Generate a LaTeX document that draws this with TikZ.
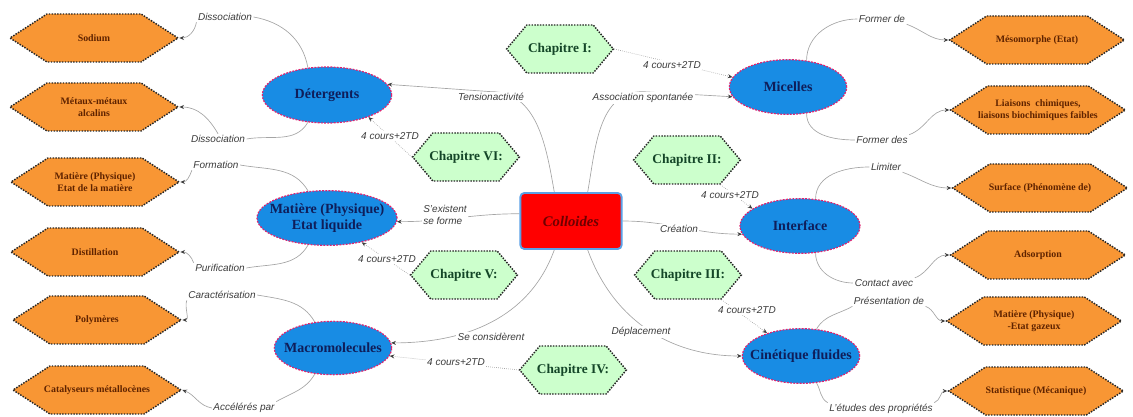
\documentclass[tikz,border=0pt]{standalone}
\usepackage{fontspec}
\setmainfont{Liberation Serif}
\setsansfont{Liberation Sans}
\usepackage{xcolor}
\usetikzlibrary{shapes.geometric, shapes.symbols, arrows.meta}

\definecolor{leafbg}{RGB}{248,150,52}
\definecolor{leaftxt}{RGB}{95,35,0}
\definecolor{chapbg}{RGB}{204,255,204}
\definecolor{chaptxt}{RGB}{20,70,40}
\definecolor{topicbg}{RGB}{24,140,228}
\definecolor{topicline}{RGB}{225,35,110}
\definecolor{topictxt}{RGB}{15,30,90}
\definecolor{rootline}{RGB}{90,160,230}
\definecolor{roottxt}{RGB}{110,0,0}
\definecolor{lbltxt}{RGB}{60,60,60}
\definecolor{conncol}{RGB}{165,165,165}

\pgfdeclarelayer{bg}
\pgfsetlayers{bg,main}

\begin{document}
\begin{tikzpicture}[x=0.75pt, y=-0.75pt,
    leaf/.style = {shape=signal, signal to=east and west, signal pointer angle=66,
        fill=leafbg, draw=black!85, line width=1.1pt, densely dotted,
        minimum width=126pt, minimum height=36pt, inner xsep=-14pt, inner ysep=2pt,
        align=center, text=leaftxt, font=\fontsize{7.4}{8.8}\selectfont\bfseries},
    chap/.style = {shape=signal, signal to=east and west, signal pointer angle=100,
        fill=chapbg, draw=black!85, line width=1.1pt, densely dotted,
        minimum width=80pt, minimum height=36pt, inner xsep=-8pt, inner ysep=2pt,
        text=chaptxt, font=\fontsize{10}{12}\selectfont\bfseries},
    topic/.style = {ellipse, fill=topicbg, draw=topicline, line width=0.9pt,
        dash pattern=on 1.4pt off 1pt, inner xsep=-20pt, inner ysep=-5pt,
        align=center, text=topictxt, font=\fontsize{10.5}{12.5}\selectfont\bfseries},
    root/.style = {rectangle, rounded corners=3pt, fill=red, draw=rootline, line width=1.4pt,
        minimum width=76pt, minimum height=42pt, text=roottxt,
        font=\fontsize{11}{13}\selectfont\bfseries\itshape},
    lbl/.style = {fill=white, inner sep=1pt, text=lbltxt, align=left,
        font=\sffamily\itshape\fontsize{7.5}{9}\selectfont},
    conn/.style = {draw=conncol, line width=0.5pt,
        -{Stealth[length=3.5pt, width=3pt, color=black!75]}},
    link/.style = {conn, densely dotted}
]
\useasboundingbox (0,0) rectangle (1133,417);

% centre
\node[root] (col) at (571,221) {Colloides};

% branches
\node[topic, minimum width=97pt, minimum height=42pt] (det) at (327,95) {Détergents};
\node[topic, minimum width=105pt, minimum height=41pt] (liq) at (327,218) {Matière (Physique)\\Etat liquide};
\node[topic, minimum width=88pt, minimum height=40pt] (mac) at (333,348) {Macromolecules};
\node[topic, minimum width=88pt, minimum height=41pt] (mic) at (788,87) {Micelles};
\node[topic, minimum width=90pt, minimum height=41pt] (int) at (800,226) {Interface};
\node[topic, minimum width=88pt, minimum height=41pt] (cin) at (801,356) {Cinétique fluides};

% chapitres
\node[chap] (ch1) at (560,49)  {Chapitre I:};
\node[chap] (ch2) at (687,160) {Chapitre II:};
\node[chap] (ch3) at (688,275) {Chapitre III:};
\node[chap] (ch4) at (573,370) {Chapitre IV:};
\node[chap] (ch5) at (464,275) {Chapitre V:};
\node[chap] (ch6) at (466,157) {Chapitre VI:};

% feuilles gauche
\node[leaf] (sod)  at (94,38)  {Sodium};
\node[leaf] (met)  at (94,107) {Métaux-métaux\\alcalins};
\node[leaf] (mpe)  at (95,182) {Matière (Physique)\\Etat de la matière};
\node[leaf] (dist) at (95,252) {Distillation};
\node[leaf] (poly) at (97,320) {Polymères};
\node[leaf] (cat)  at (97,390) {Catalyseurs métallocènes};

% feuilles droite
\node[leaf, minimum width=131pt] (meso) at (1037,40)  {Mésomorphe (Etat)};
\node[leaf, minimum width=131pt] (liai) at (1038,110) {Liaisons\enspace chimiques,\\liaisons biochimiques faibles};
\node[leaf, minimum width=131pt] (surf) at (1040,188) {Surface (Phénomène de)};
\node[leaf, minimum width=131pt] (ads)  at (1038,255) {Adsorption};
\node[leaf, minimum width=131pt] (mgaz) at (1034,321) {Matière (Physique)\\-Etat gazeux};
\node[leaf, minimum width=131pt] (stat) at (1036,391) {Statistique (Mécanique)};

% labels
\node[lbl] (dis1) at (225,17)  {Dissociation};
\node[lbl] (dis2) at (218,139) {Dissociation};
\node[lbl] (frm)  at (216,165) {Formation};
\node[lbl] (pur)  at (220,268) {Purification};
\node[lbl] (car)  at (222,295) {Caractérisation};
\node[lbl] (acc)  at (244,408) {Accélérés par};
\node[lbl] (fde)  at (882,19)  {Former de};
\node[lbl] (fds)  at (882,140) {Former des};
\node[lbl] (lim)  at (886,167) {Limiter};
\node[lbl] (cav)  at (884,283) {Contact avec};
\node[lbl] (pre)  at (889,301) {Présentation de};
\node[lbl] (ldp)  at (881,409) {L'études des propriétés};
\node[lbl] (ten)  at (491,97)  {Tensionactivité};
\node[lbl] (ass)  at (643,98)  {Association spontanée};
\node[lbl] (sex)  at (445,215) {S'existent\\se forme};
\node[lbl] (cre)  at (679,229) {Création};
\node[lbl] (sec)  at (491,337) {Se considèrent};
\node[lbl] (dep)  at (641,332) {Déplacement};
\node[lbl] (c1)   at (672,65)  {4 cours+2TD};
\node[lbl] (c2)   at (730,195) {4 cours+2TD};
\node[lbl] (c3)   at (747,310) {4 cours+2TD};
\node[lbl] (c4)   at (456,362) {4 cours+2TD};
\node[lbl] (c5)   at (387,259) {4 cours+2TD};
\node[lbl] (c6)   at (390,136) {4 cours+2TD};

\begin{pgfonlayer}{bg}
    % centre -> branches
    \draw[conn] (col.120) to[out=100,in=0] (ten.north) -- (det.10);
    \draw[conn] (col.60) to[out=80,in=180] (ass.north) -- (mic.190);
    \draw[conn] (col.172) to[out=180,in=0] (liq.-3);
    \draw[conn] (col.east) to[out=0,in=180] (int.188);
    \draw[conn] (col.240) to[out=-110,in=0] (mac.5);
    \draw[conn] (col.300) to[out=-70,in=180] (cin.west);

    % chapitres -> branches
    \draw[link] (ch1.east) -- (mic.170);
    \draw[link] (ch6.west) -- (det.-28);
    \draw[link] (ch2.south east) -- (int.160);
    \draw[link] (ch5.west) -- (liq.-35);
    \draw[link] (ch3.south east) -- (cin.146);
    \draw[link] (ch4.west) -- (mac.-8);

    % branches -> feuilles
    \draw[conn] (det.125) to[out=100,in=-10] (dis1.east) (dis1.south west) to[out=-100,in=0] (sod.east);
    \draw[conn] (det.235) to[out=-120,in=10] (dis2.east) (dis2.north) to[out=120,in=0] (met.east);
    \draw[conn] (liq.125) to[out=120,in=-10] (frm.east) (frm.south west) to[out=-110,in=0] (mpe.east);
    \draw[conn] (liq.235) to[out=-120,in=10] (pur.east) (pur.north west) to[out=110,in=0] (dist.east);
    \draw[conn] (mac.125) to[out=120,in=-10] (car.east) (car.south west) to[out=-110,in=0] (poly.east);
    \draw[conn] (mac.235) to[out=-120,in=30] (acc.north east) (acc.west) to[out=170,in=-20] (cat.east);
    \draw[conn] (mic.55) to[out=90,in=180] (fde.west) (fde.south east) to[out=-20,in=180] (meso.west);
    \draw[conn] (mic.-55) to[out=-90,in=180] (fds.west) (fds.north east) to[out=20,in=180] (liai.west);
    \draw[conn] (int.60) to[out=90,in=180] (lim.west) (lim.south east) to[out=-20,in=180] (surf.west);
    \draw[conn] (int.-60) to[out=-90,in=180] (cav.west) (cav.north east) to[out=20,in=180] (ads.west);
    \draw[conn] (cin.60) to[out=60,in=210] (pre.south west) (pre.south east) to[out=-20,in=180] (mgaz.west);
    \draw[conn] (cin.-60) to[out=-60,in=150] (ldp.north west) (ldp.north east) to[out=20,in=180] (stat.west);
\end{pgfonlayer}
\end{tikzpicture}
\end{document}
